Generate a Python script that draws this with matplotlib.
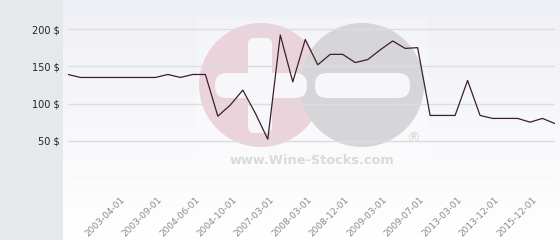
"""
Wine price history chart with Wine-Stocks watermark.
"""

import numpy as np
import matplotlib.pyplot as plt
from matplotlib.patches import Rectangle, Circle, FancyBboxPatch
from matplotlib.transforms import ScaledTranslation
from matplotlib.colors import LinearSegmentedColormap

prices = [139, 135, 135, 135, 135, 135, 135, 135, 139, 135,
          139, 139, 83, 98, 118, 87, 52, 192, 129, 186,
          152, 166, 166, 155, 159, 172, 184, 174, 175, 84,
          84, 84, 131, 84, 80, 80, 80, 75, 80, 73]
tick_labels = ["2003-04-01", "2003-09-01", "2004-06-01", "2004-10-01",
               "2007-03-01", "2008-03-01", "2008-12-01", "2009-03-01",
               "2009-07-01", "2013-03-01", "2013-12-01", "2015-12-01"]
y_ticks = [50, 100, 150, 200]

W, H = 560, 240
fig = plt.figure(figsize=(W / 100, H / 100), dpi=100)
fig.patch.set_facecolor("#e6e9ec")

# background layer in pixel coords
bg = fig.add_axes([0, 0, 1, 1], zorder=0)
bg.set_xlim(0, W)
bg.set_ylim(H, 0)
bg.axis("off")
grad = np.linspace(0, 1, 100)[:, None]
cmap = LinearSegmentedColormap.from_list("bg", ["#eff0f5", "#ffffff"])
bg.imshow(grad, extent=[63, W, H, 0], aspect="auto", cmap=cmap, interpolation="bicubic")
bg.add_patch(Rectangle((197, 18), 231, 156, color="white", alpha=0.25, lw=0))

# watermark
bg.add_patch(Circle((261, 85), 62, color="#ebd3db", lw=0))
bg.add_patch(Circle((362, 85), 62, color="#d6d6d8", lw=0))
bg.add_patch(FancyBboxPatch((248 + 6, 38 + 6), 24 - 12, 95 - 12, boxstyle="round,pad=6",
                            color="#f7f7f9", lw=0))
bg.add_patch(FancyBboxPatch((215 + 12, 73 + 12), 92 - 24, 25 - 24, boxstyle="round,pad=12",
                            color="#f7f7f9", lw=0))
bg.add_patch(FancyBboxPatch((315 + 12, 73 + 12), 95 - 24, 25 - 24, boxstyle="round,pad=12",
                            color="#f7f7f9", lw=0))
bg.text(312, 161, "www.Wine-Stocks.com", ha="center", va="center", fontsize=9.3,
        fontweight="bold", color="#dadada")
bg.text(413, 139, "®", ha="center", va="center", fontsize=10, color="#d9d9d9")

# main chart
ax = fig.add_axes([68 / W, (H - 178) / H, (555 - 68) / W, 178 / H], zorder=1)
ax.set_facecolor("none")
x = np.arange(len(prices))
ax.plot(x, prices, color="#3b1f2b", linewidth=0.9, zorder=3)
ax.set_xlim(0, len(prices) - 1)
ax.set_ylim(0, 239)

ax.set_yticks([0] + y_ticks)
ax.set_yticklabels([""] + [f"{v} $" for v in y_ticks])
ax.grid(axis="y", color="#dcdde0", linewidth=1)
ax.tick_params(axis="y", length=0, pad=6, labelsize=7, labelcolor="#222222")
for s in ax.spines.values():
    s.set_visible(False)

ax.set_xticks(range(4, len(prices), 3))
ax.set_xticklabels(tick_labels, rotation=45, ha="right", va="top",
                   rotation_mode="anchor", fontsize=6.5, color="#8a8a8a")
ax.tick_params(axis="x", length=0, pad=12)
offset = ScaledTranslation(2 / 100, 0, fig.dpi_scale_trans)
for lbl in ax.get_xticklabels():
    lbl.set_transform(lbl.get_transform() + offset)

fig.savefig("out.png", dpi=100)
